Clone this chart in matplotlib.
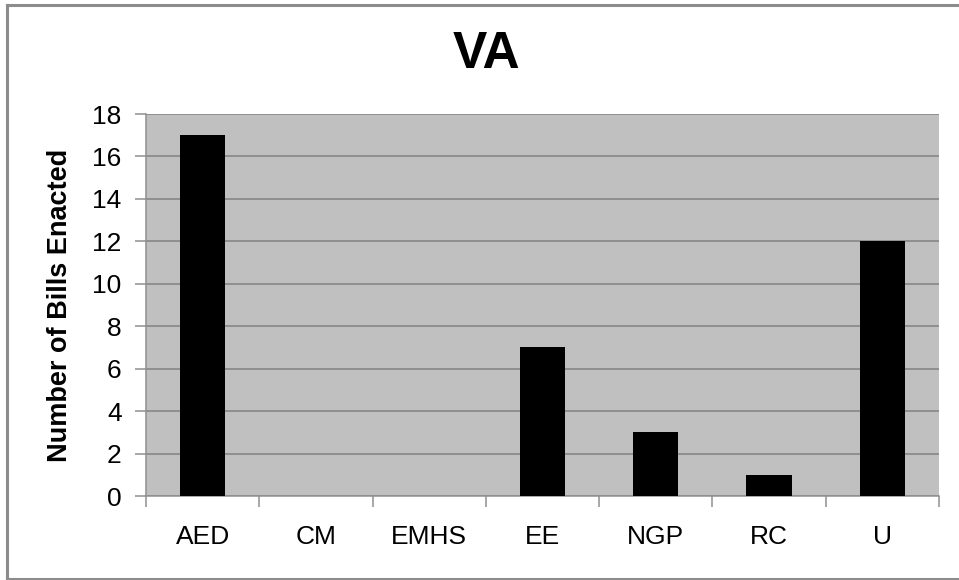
import numpy as np
import matplotlib
matplotlib.use('Agg')
from matplotlib import pyplot as plt
from matplotlib.lines import Line2D

categories = ['AED', 'CM', 'EMHS', 'EE', 'NGP', 'RC', 'U']
bills = [17, 0, 0, 7, 3, 1, 12]
yticks = [0, 2, 4, 6, 8, 10, 12, 14, 16, 18]

plt.rcParams['font.family'] = ['Liberation Sans', 'DejaVu Sans']

fig = plt.figure(figsize=(9.59, 5.80), dpi=100)
ax = fig.add_axes([0.1522, 0.1448, 0.8269, 0.6586])
ax.set_facecolor('#c0c0c0')

x = np.arange(len(categories))
ax.bar(x, bills, width=0.4, color='black', linewidth=0, zorder=3)

ax.set_xlim(-0.5, len(categories) - 0.5)
ax.set_ylim(0, 18)
ax.set_yticks(yticks)
ax.yaxis.grid(True, color='#828282', linewidth=1.1, zorder=1)
ax.set_axisbelow(True)

# labels under the categories, tick marks at category boundaries
ax.set_xticks(x)
ax.set_xticklabels(categories, fontsize=19)
ax.set_xticks(np.arange(len(categories) + 1) - 0.5, minor=True)
ax.tick_params(axis='x', which='major', length=0, pad=21)
ax.tick_params(axis='x', which='minor', length=8, color='#909090', width=1.1)
ax.tick_params(axis='y', length=8, color='#909090', width=1.1, pad=9.5,
               labelsize=19)

for side in ['top', 'right']:
    ax.spines[side].set_visible(False)
for side in ['left', 'bottom']:
    ax.spines[side].set_color('#909090')
    ax.spines[side].set_linewidth(1.1)

ax.set_ylabel('Number of Bills Enacted', fontsize=19.5, fontweight='bold',
              labelpad=14)
fig.text(0.507, 0.906, 'VA', fontsize=37, fontweight='bold',
         ha='center', va='center')

# outer chart border (left, top, bottom)
bx0, by0, by1 = 0.0073, 0.0017, 0.9914
for xs, ys in [([bx0, bx0], [by0, by1]), ([bx0, 1.0], [by1, by1]),
               ([bx0, 1.0], [by0, by0])]:
    fig.add_artist(Line2D(xs, ys, color='#8c8c8c', linewidth=2.2,
                          transform=fig.transFigure))

fig.savefig('out.png', dpi=100)
